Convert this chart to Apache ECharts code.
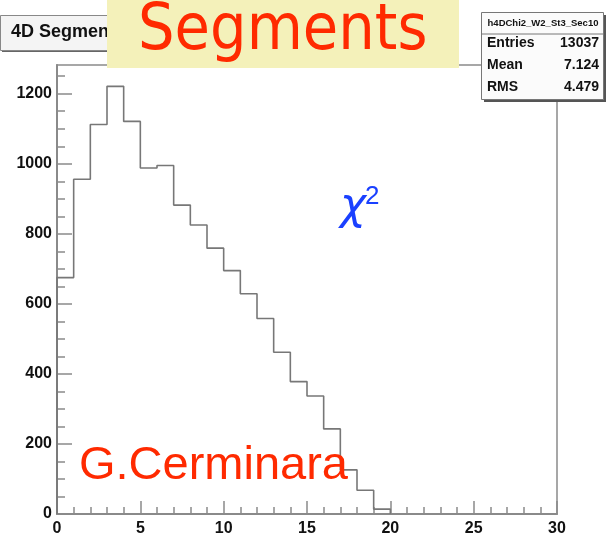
<!DOCTYPE html>
<html>
<head>
<meta charset="utf-8">
<script src="https://cdn.jsdelivr.net/npm/echarts@6/dist/echarts.min.js"></script>
<style>
  html, body { margin: 0; padding: 0; background: #fff; }
  #chart { width: 607px; height: 549px; }
</style>
</head>
<body>
<div id="chart"></div>
<script>
// Histogram of 4D segment chi2: 20 unit-width bins starting at 0
const binLow = [0, 1, 2, 3, 4, 5, 6, 7, 8, 9, 10, 11, 12, 13, 14, 15, 16, 17, 18, 19, 20];
const counts = [675, 956, 1112, 1221, 1121, 988, 995, 882, 825, 759, 695, 629, 558, 462, 378, 337, 243, 126, 68, 14, 0];
const yMajor = [0, 200, 400, 600, 800, 1000, 1200];
const yMinor = [0, 50, 100, 150, 200, 250, 300, 350, 400, 450, 500, 550, 600, 650, 700, 750,
                800, 850, 900, 950, 1000, 1050, 1100, 1150, 1200, 1250];
const statNames = ['Entries', 'Mean', 'RMS'];
const statValues = ['13037', '7.124', '4.479'];

const histData = [[binLow[0], 0]].concat(binLow.map((x, i) => [x, counts[i]]));

const chart = echarts.init(document.getElementById('chart'), null, { renderer: 'canvas' });

const axisGray = '#8a8a8a';
const labelFont = { fontFamily: 'Liberation Sans', fontWeight: 'bold', fontSize: 16, color: '#111',
                    formatter: v => String(v) };

const statRows = [];
statNames.forEach((name, i) => {
  const y = 45 + i * 22;
  statRows.push({
    type: 'text', z: 103, left: 487, top: y - 9,
    style: { text: name, font: 'bold 14px "Liberation Sans"', fill: '#111' }
  });
  statRows.push({
    type: 'text', z: 103, right: 8, top: y - 9,
    style: { text: statValues[i], font: 'bold 14px "Liberation Sans"', fill: '#111', textAlign: 'right' }
  });
});

chart.setOption({
  animation: false,
  backgroundColor: '#ffffff',
  grid: {
    left: 57, right: 50, top: 65, bottom: 35,
    show: true, borderColor: axisGray, borderWidth: 1.5, backgroundColor: '#fff'
  },
  xAxis: {
    type: 'value', min: 0, max: 30, interval: 5,
    axisLine: { show: true, onZero: false, lineStyle: { color: axisGray, width: 2 } },
    axisTick: { show: true, inside: true, length: 13, lineStyle: { color: axisGray, width: 1.5 } },
    minorTick: { show: true, splitNumber: 5, length: 7, lineStyle: { color: axisGray, width: 1.5 } },
    splitLine: { show: false },
    axisLabel: Object.assign({ margin: 7 }, labelFont)
  },
  yAxis: [
    {
      type: 'value', min: 0, max: 1282, position: 'left',
      axisLine: { show: true, lineStyle: { color: axisGray, width: 2 } },
      axisTick: { show: true, inside: true, length: 15, customValues: yMajor,
                  lineStyle: { color: axisGray, width: 1.5 } },
      splitLine: { show: false },
      axisLabel: Object.assign({ margin: 5, customValues: yMajor }, labelFont)
    },
    {
      type: 'value', min: 0, max: 1282, position: 'left', offset: 0,
      axisLine: { show: false },
      axisTick: { show: true, inside: true, length: 8, customValues: yMinor,
                  lineStyle: { color: axisGray, width: 1.5 } },
      splitLine: { show: false },
      axisLabel: { show: false }
    }
  ],
  series: [{
    type: 'line',
    step: 'end',
    data: histData,
    yAxisIndex: 0,
    showSymbol: false,
    symbol: 'none',
    lineStyle: { color: '#777', width: 1.6 }
  }],
  graphic: [
    // histogram title pad
    { type: 'rect', z: 100, shape: { x: 2, y: 17, width: 200, height: 35 }, style: { fill: '#666' } },
    { type: 'rect', z: 101, shape: { x: 0.5, y: 15.5, width: 200, height: 35 },
      style: { fill: '#f4f4f4', stroke: '#888', lineWidth: 1 } },
    { type: 'text', z: 102, left: 11, top: 23,
      style: { text: '4D Segment \u03c7\u00b2', font: 'bold 18px "Liberation Sans"', fill: '#111' } },
    // yellow banner
    { type: 'rect', z: 110, shape: { x: 107, y: 0, width: 352, height: 68 }, style: { fill: '#f4f1ba' } },
    { type: 'text', z: 111, x: 138, y: 33, scaleX: 0.93, scaleY: 1.02, originX: 0, originY: 0,
      style: { text: 'Segments', font: '62px "DejaVu Sans"', fill: '#ff2a00', textVerticalAlign: 'middle' } },
    // statistics box
    { type: 'rect', z: 100, shape: { x: 484, y: 15, width: 122, height: 87 }, style: { fill: '#555' } },
    { type: 'rect', z: 101, shape: { x: 481.5, y: 12.5, width: 122, height: 87 },
      style: { fill: '#fbfbfb', stroke: '#777', lineWidth: 1 } },
    { type: 'line', z: 102, shape: { x1: 482, y1: 34, x2: 603, y2: 34 }, style: { stroke: '#777', lineWidth: 1 } },
    { type: 'text', z: 103, x: 543, y: 23,
      style: { text: 'h4DChi2_W2_St3_Sec10', font: 'bold 9.5px "Liberation Sans"', fill: '#111',
               textAlign: 'center', textVerticalAlign: 'middle' } },
    ...statRows,
    // chi2 label
    { type: 'text', z: 50, x: 340, y: 208,
      style: { text: '\u03c7', font: 'italic 44px "DejaVu Sans"', fill: '#1a40ff', textVerticalAlign: 'middle' } },
    { type: 'text', z: 50, x: 365, y: 197,
      style: { text: '2', font: '26px "Liberation Sans"', fill: '#1a40ff', textVerticalAlign: 'middle' } },
    // author
    { type: 'text', z: 50, x: 79, y: 466,
      style: { text: 'G.Cerminara', font: '47px "Liberation Sans"', fill: '#ff2a00', textVerticalAlign: 'middle' } }
  ]
});
</script>
</body>
</html>
